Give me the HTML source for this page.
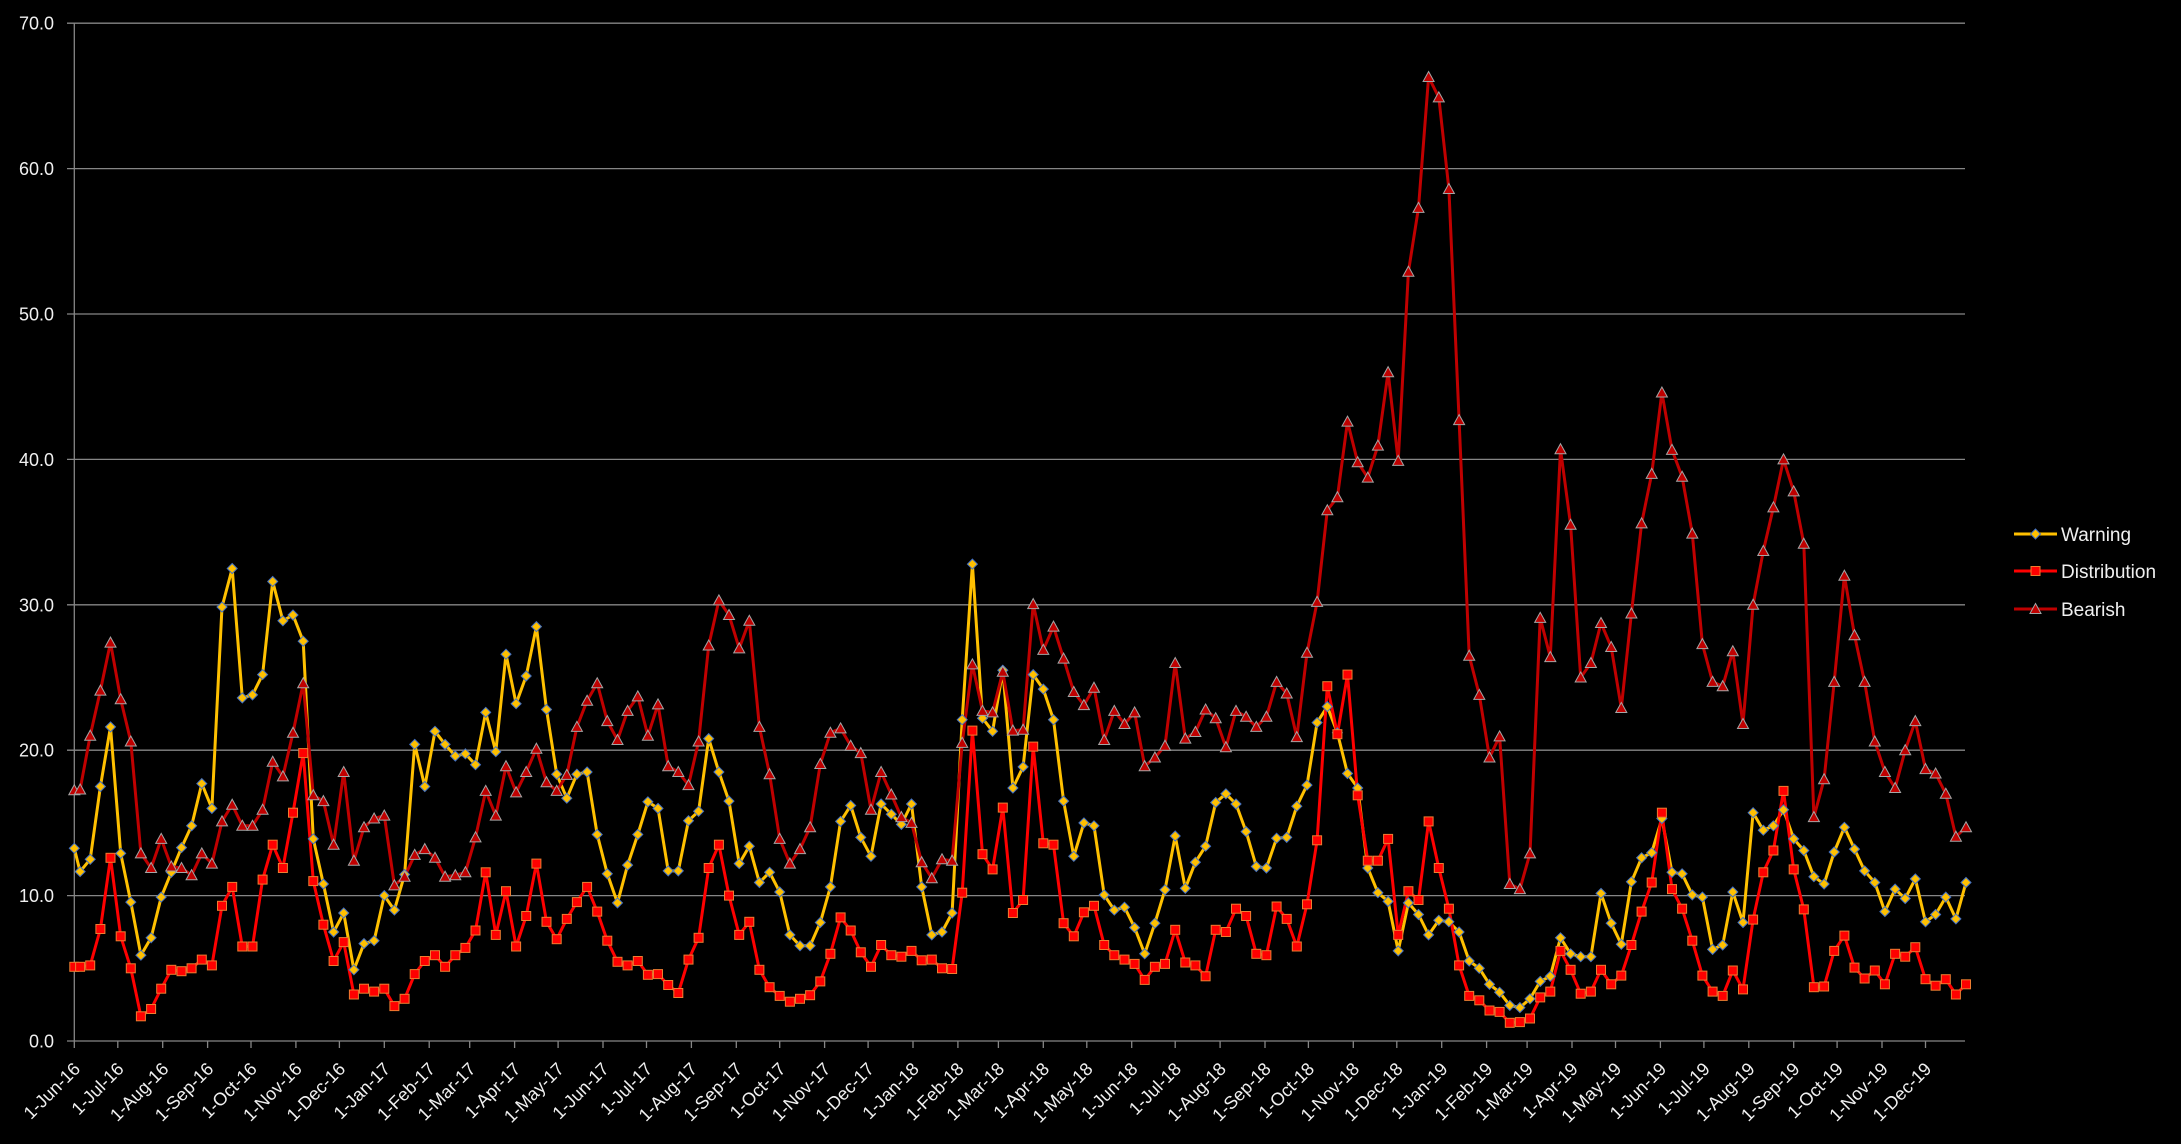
<!DOCTYPE html>
<html>
<head>
<meta charset="utf-8">
<style>
html,body{margin:0;padding:0;background:#000;}
body{width:2181px;height:1144px;overflow:hidden;}
svg{display:block;}
text{font-family:"Liberation Sans",Arial,sans-serif;fill:#f0f0f0;}
</style>
</head>
<body>
<svg id="chart" xmlns="http://www.w3.org/2000/svg" width="2181" height="1144" viewBox="0 0 2181 1144">
<rect x="0" y="0" width="2181" height="1144" fill="#000"/>
<g stroke="#868686" stroke-width="1.3" fill="none">
<line x1="67" y1="23.2" x2="1965" y2="23.2"/>
<line x1="67" y1="168.6" x2="1965" y2="168.6"/>
<line x1="67" y1="314.0" x2="1965" y2="314.0"/>
<line x1="67" y1="459.4" x2="1965" y2="459.4"/>
<line x1="67" y1="604.8" x2="1965" y2="604.8"/>
<line x1="67" y1="750.2" x2="1965" y2="750.2"/>
<line x1="67" y1="895.6" x2="1965" y2="895.6"/>
<line x1="67" y1="1041" x2="1965" y2="1041"/>
<line x1="74.3" y1="23.2" x2="74.3" y2="1041"/>
<path d="M74.3 1041v7M117.8 1041v7M162.7 1041v7M207.6 1041v7M251.0 1041v7M295.9 1041v7M339.4 1041v7M384.3 1041v7M429.2 1041v7M469.7 1041v7M514.6 1041v7M558.1 1041v7M603.0 1041v7M646.5 1041v7M691.4 1041v7M736.3 1041v7M779.7 1041v7M824.6 1041v7M868.1 1041v7M913.0 1041v7M957.9 1041v7M998.4 1041v7M1043.3 1041v7M1086.8 1041v7M1131.7 1041v7M1175.2 1041v7M1220.1 1041v7M1265.0 1041v7M1308.4 1041v7M1353.3 1041v7M1396.8 1041v7M1441.7 1041v7M1486.6 1041v7M1527.1 1041v7M1572.0 1041v7M1615.5 1041v7M1660.4 1041v7M1703.9 1041v7M1748.8 1041v7M1793.7 1041v7M1837.1 1041v7M1882.0 1041v7M1925.5 1041v7"/>
</g>
<g font-size="18" text-anchor="end">
<text x="54" y="29.7">70.0</text>
<text x="54" y="175.1">60.0</text>
<text x="54" y="320.5">50.0</text>
<text x="54" y="465.9">40.0</text>
<text x="54" y="611.3">30.0</text>
<text x="54" y="756.7">20.0</text>
<text x="54" y="902.1">10.0</text>
<text x="54" y="1047.5">0.0</text>
</g>
<g font-size="18" text-anchor="end">
<text x="81.3" y="1070" transform="rotate(-45 81.3 1070)">1-Jun-16</text>
<text x="124.8" y="1070" transform="rotate(-45 124.8 1070)">1-Jul-16</text>
<text x="169.7" y="1070" transform="rotate(-45 169.7 1070)">1-Aug-16</text>
<text x="214.6" y="1070" transform="rotate(-45 214.6 1070)">1-Sep-16</text>
<text x="258.0" y="1070" transform="rotate(-45 258.0 1070)">1-Oct-16</text>
<text x="302.9" y="1070" transform="rotate(-45 302.9 1070)">1-Nov-16</text>
<text x="346.4" y="1070" transform="rotate(-45 346.4 1070)">1-Dec-16</text>
<text x="391.3" y="1070" transform="rotate(-45 391.3 1070)">1-Jan-17</text>
<text x="436.2" y="1070" transform="rotate(-45 436.2 1070)">1-Feb-17</text>
<text x="476.7" y="1070" transform="rotate(-45 476.7 1070)">1-Mar-17</text>
<text x="521.6" y="1070" transform="rotate(-45 521.6 1070)">1-Apr-17</text>
<text x="565.1" y="1070" transform="rotate(-45 565.1 1070)">1-May-17</text>
<text x="610.0" y="1070" transform="rotate(-45 610.0 1070)">1-Jun-17</text>
<text x="653.5" y="1070" transform="rotate(-45 653.5 1070)">1-Jul-17</text>
<text x="698.4" y="1070" transform="rotate(-45 698.4 1070)">1-Aug-17</text>
<text x="743.3" y="1070" transform="rotate(-45 743.3 1070)">1-Sep-17</text>
<text x="786.7" y="1070" transform="rotate(-45 786.7 1070)">1-Oct-17</text>
<text x="831.6" y="1070" transform="rotate(-45 831.6 1070)">1-Nov-17</text>
<text x="875.1" y="1070" transform="rotate(-45 875.1 1070)">1-Dec-17</text>
<text x="920.0" y="1070" transform="rotate(-45 920.0 1070)">1-Jan-18</text>
<text x="964.9" y="1070" transform="rotate(-45 964.9 1070)">1-Feb-18</text>
<text x="1005.4" y="1070" transform="rotate(-45 1005.4 1070)">1-Mar-18</text>
<text x="1050.3" y="1070" transform="rotate(-45 1050.3 1070)">1-Apr-18</text>
<text x="1093.8" y="1070" transform="rotate(-45 1093.8 1070)">1-May-18</text>
<text x="1138.7" y="1070" transform="rotate(-45 1138.7 1070)">1-Jun-18</text>
<text x="1182.2" y="1070" transform="rotate(-45 1182.2 1070)">1-Jul-18</text>
<text x="1227.1" y="1070" transform="rotate(-45 1227.1 1070)">1-Aug-18</text>
<text x="1272.0" y="1070" transform="rotate(-45 1272.0 1070)">1-Sep-18</text>
<text x="1315.4" y="1070" transform="rotate(-45 1315.4 1070)">1-Oct-18</text>
<text x="1360.3" y="1070" transform="rotate(-45 1360.3 1070)">1-Nov-18</text>
<text x="1403.8" y="1070" transform="rotate(-45 1403.8 1070)">1-Dec-18</text>
<text x="1448.7" y="1070" transform="rotate(-45 1448.7 1070)">1-Jan-19</text>
<text x="1493.6" y="1070" transform="rotate(-45 1493.6 1070)">1-Feb-19</text>
<text x="1534.1" y="1070" transform="rotate(-45 1534.1 1070)">1-Mar-19</text>
<text x="1579.0" y="1070" transform="rotate(-45 1579.0 1070)">1-Apr-19</text>
<text x="1622.5" y="1070" transform="rotate(-45 1622.5 1070)">1-May-19</text>
<text x="1667.4" y="1070" transform="rotate(-45 1667.4 1070)">1-Jun-19</text>
<text x="1710.9" y="1070" transform="rotate(-45 1710.9 1070)">1-Jul-19</text>
<text x="1755.8" y="1070" transform="rotate(-45 1755.8 1070)">1-Aug-19</text>
<text x="1800.7" y="1070" transform="rotate(-45 1800.7 1070)">1-Sep-19</text>
<text x="1844.1" y="1070" transform="rotate(-45 1844.1 1070)">1-Oct-19</text>
<text x="1889.0" y="1070" transform="rotate(-45 1889.0 1070)">1-Nov-19</text>
<text x="1932.5" y="1070" transform="rotate(-45 1932.5 1070)">1-Dec-19</text>
</g>
<g id="series"></g>
<g id="legend">
<line x1="2014" y1="534" x2="2057" y2="534" stroke="#FFC000" stroke-width="3"/>
<path d="M2035.5 529 L2040.5 534 L2035.5 539 L2030.5 534 Z" fill="#FFC000" stroke="#4472C4" stroke-width="1"/>
<text x="2061" y="541" font-size="19">Warning</text>
<line x1="2014" y1="571" x2="2057" y2="571" stroke="#FF0000" stroke-width="3"/>
<rect x="2031" y="566.5" width="9" height="9" fill="#FF0000" stroke="#ED7D31" stroke-width="1"/>
<text x="2061" y="578" font-size="19">Distribution</text>
<line x1="2014" y1="609" x2="2057" y2="609" stroke="#C00000" stroke-width="3"/>
<path d="M2035.5 603.5 L2041 613.5 L2030 613.5 Z" fill="#C00000" stroke="#A5A5A5" stroke-width="1"/>
<text x="2061" y="616" font-size="19">Bearish</text>
</g>
</svg>
<script>
(function(){
var W=[13.25,11.65,12.5,17.5,21.6,12.9,9.55,5.9,7.1,9.9,11.6,13.3,14.8,17.7,16.0,29.85,32.5,23.6,23.8,25.2,31.6,28.9,29.3,27.5,13.9,10.8,7.5,8.8,4.9,6.7,6.9,10.0,9.0,11.45,20.4,17.5,21.3,20.4,19.6,19.75,19.0,22.6,19.9,26.6,23.2,25.1,28.5,22.8,18.35,16.7,18.35,18.5,14.2,11.5,9.5,12.1,14.2,16.45,16.0,11.7,11.7,15.15,15.8,20.8,18.5,16.5,12.2,13.4,10.9,11.6,10.25,7.3,6.55,6.55,8.15,10.6,15.1,16.2,14.0,12.7,16.3,15.6,14.9,16.3,10.6,7.3,7.5,8.8,22.1,32.8,22.2,21.3,25.5,17.4,18.85,25.2,24.2,22.1,16.5,12.7,15.0,14.8,10.05,9.0,9.2,7.8,6.0,8.1,10.4,14.1,10.5,12.3,13.4,16.4,17.0,16.3,14.4,12.0,11.9,13.95,14.0,16.15,17.6,21.9,23.0,21.2,18.4,17.4,11.9,10.2,9.6,6.2,9.5,8.7,7.3,8.3,8.2,7.5,5.5,5.0,3.9,3.35,2.45,2.3,2.9,4.1,4.45,7.1,6.0,5.8,5.8,10.15,8.1,6.65,10.95,12.6,12.95,15.3,11.6,11.5,10.05,9.9,6.3,6.6,10.25,8.15,15.7,14.5,14.8,15.9,13.9,13.1,11.3,10.8,13.0,14.7,13.2,11.7,10.9,8.9,10.45,9.8,11.15,8.2,8.7,9.9,8.4,10.9];
var D=[5.1,5.1,5.2,7.7,12.6,7.2,5.0,1.7,2.2,3.6,4.9,4.8,5.0,5.6,5.2,9.3,10.6,6.5,6.5,11.1,13.5,11.9,15.7,19.8,11.0,8.0,5.5,6.8,3.2,3.6,3.4,3.6,2.4,2.9,4.6,5.5,5.9,5.1,5.9,6.4,7.6,11.6,7.3,10.3,6.5,8.6,12.2,8.2,7.0,8.4,9.55,10.6,8.9,6.9,5.45,5.2,5.5,4.55,4.6,3.85,3.3,5.6,7.1,11.9,13.5,10.0,7.3,8.2,4.9,3.7,3.1,2.7,2.9,3.15,4.1,6.0,8.5,7.6,6.1,5.1,6.6,5.9,5.8,6.2,5.55,5.6,5.0,4.95,10.2,21.35,12.85,11.8,16.05,8.8,9.7,20.25,13.6,13.5,8.1,7.2,8.85,9.3,6.6,5.9,5.6,5.3,4.2,5.1,5.3,7.65,5.4,5.2,4.45,7.65,7.5,9.1,8.6,6.0,5.9,9.25,8.4,6.5,9.4,13.8,24.4,21.1,25.2,16.9,12.4,12.4,13.9,7.3,10.3,9.7,15.1,11.9,9.1,5.2,3.1,2.8,2.1,2.0,1.25,1.3,1.55,3.0,3.4,6.2,4.9,3.25,3.4,4.9,3.9,4.5,6.6,8.9,10.9,15.7,10.45,9.1,6.9,4.5,3.4,3.1,4.85,3.55,8.35,11.6,13.1,17.2,11.8,9.05,3.7,3.75,6.2,7.25,5.05,4.3,4.85,3.9,6.0,5.8,6.45,4.25,3.8,4.25,3.2,3.9];
var B=[17.25,17.3,21.0,24.1,27.4,23.5,20.6,12.9,11.9,13.9,12.0,11.9,11.4,12.9,12.2,15.1,16.25,14.8,14.8,15.9,19.2,18.2,21.2,24.6,16.9,16.5,13.5,18.5,12.4,14.7,15.3,15.5,10.7,11.3,12.8,13.2,12.6,11.3,11.4,11.6,14.0,17.2,15.5,18.9,17.1,18.5,20.1,17.8,17.2,18.3,21.6,23.4,24.6,22.0,20.7,22.7,23.7,21.0,23.15,18.9,18.5,17.6,20.6,27.2,30.3,29.3,27.0,28.9,21.6,18.35,13.9,12.2,13.2,14.7,19.05,21.2,21.5,20.3,19.8,15.9,18.5,16.95,15.4,15.0,12.3,11.2,12.5,12.4,20.5,25.9,22.7,22.6,25.4,21.35,21.4,30.05,26.9,28.5,26.3,24.0,23.1,24.3,20.7,22.7,21.8,22.6,18.9,19.5,20.3,26.0,20.8,21.25,22.8,22.2,20.2,22.7,22.3,21.6,22.3,24.7,23.9,20.9,26.7,30.2,36.5,37.4,42.6,39.8,38.75,40.95,46.0,39.9,52.9,57.3,66.3,64.9,58.6,42.7,26.5,23.8,19.5,20.95,10.8,10.45,12.9,29.1,26.4,40.7,35.5,25.0,26.0,28.75,27.1,22.9,29.4,35.6,39.0,44.6,40.65,38.8,34.9,27.3,24.7,24.4,26.8,21.8,30.0,33.7,36.7,40.0,37.8,34.2,15.4,18.0,24.7,32.0,27.9,24.7,20.6,18.5,17.4,20.0,22.0,18.7,18.4,17.0,14.05,14.7];
function X(i){var d=(i===0)?0:4+7*(i-1);return 74.3+d*1.4485;}
function Y(v){return 1041-v*14.54;}
function pts(a){var s=[];for(var i=0;i<a.length;i++){s.push(X(i).toFixed(1)+","+Y(a[i]).toFixed(1));}return s.join(" ");}
var h="";
h+='<polyline points="'+pts(W)+'" fill="none" stroke="#FFC000" stroke-width="3" stroke-linejoin="round"/>';
h+='<polyline points="'+pts(D)+'" fill="none" stroke="#FF0000" stroke-width="3" stroke-linejoin="round"/>';
h+='<polyline points="'+pts(B)+'" fill="none" stroke="#C00000" stroke-width="3" stroke-linejoin="round"/>';
var i,x,y;
for(i=0;i<W.length;i++){x=X(i);y=Y(W[i]);
h+='<path d="M'+x.toFixed(1)+' '+(y-5).toFixed(1)+'L'+(x+5).toFixed(1)+' '+y.toFixed(1)+'L'+x.toFixed(1)+' '+(y+5).toFixed(1)+'L'+(x-5).toFixed(1)+' '+y.toFixed(1)+'Z" fill="#FFC000" stroke="#4472C4" stroke-width="1"/>';}
for(i=0;i<D.length;i++){x=X(i);y=Y(D[i]);
h+='<rect x="'+(x-4.5).toFixed(1)+'" y="'+(y-4.5).toFixed(1)+'" width="9" height="9" fill="#FF0000" stroke="#ED7D31" stroke-width="1"/>';}
for(i=0;i<B.length;i++){x=X(i);y=Y(B[i]);
h+='<path d="M'+x.toFixed(1)+' '+(y-5.5).toFixed(1)+'L'+(x+5.5).toFixed(1)+' '+(y+4.5).toFixed(1)+'L'+(x-5.5).toFixed(1)+' '+(y+4.5).toFixed(1)+'Z" fill="#C00000" stroke="#A5A5A5" stroke-width="1"/>';}
document.getElementById("series").innerHTML=h;
})();
</script>
</body>
</html>
